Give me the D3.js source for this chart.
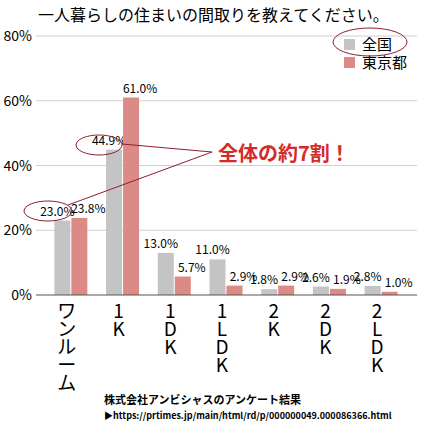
<!DOCTYPE html><html><head><meta charset="utf-8"><script src="https://cdn.jsdelivr.net/npm/d3@7"></script>
<style>body{margin:0;background:#fff}text{font-family:"Noto Sans CJK JP",sans-serif}</style></head><body><svg id="c" width="424" height="426"></svg>
<script>
const categories=["ワンルーム","1K","1DK","1LDK","2K","2DK","2LDK"];
const labelChars=[["ワ","ン","ル","ー","ム"],["1","K"],["1","D","K"],["1","L","D","K"],["2","K"],["2","D","K"],["2","L","D","K"]];
const zenkoku=[23.0,44.9,13.0,11.0,1.8,2.6,2.8];
const tokyo=[23.8,61.0,5.7,2.9,2.9,1.9,1.0];
const ticks=[0,20,40,60,80];
const svg=d3.select("#c");
const x=d3.scaleBand().domain(categories).range([45,407]);
const y=d3.scaleLinear().domain([0,80]).range([295,36]);
const g="#c4c4c4",r="#dc8a86";
svg.append("text").attr("x",38).attr("y",21).attr("font-size",16).text("一人暮らしの住まいの間取りを教えてください。");
ticks.forEach(t=>{
  if(t>0)svg.append("line").attr("x1",36).attr("x2",417).attr("y1",y(t)).attr("y2",y(t)).attr("stroke","#d0d0d0");
  svg.append("text").attr("x",32).attr("y",y(t)+5).attr("text-anchor","end").attr("font-size",14).text(t+"%");
});
const bw=16;
categories.forEach((c,i)=>{
  const cx=x(c)+x.bandwidth()/2;
  [[zenkoku[i],g,cx-bw-0.5,-5],[tokyo[i],r,cx+0.5,9]].forEach(([v,col,bx,dx])=>{
    svg.append("rect").attr("x",bx).attr("y",y(v)).attr("width",bw).attr("height",y(0)-y(v)).attr("fill",col);
    svg.append("text").attr("x",bx+bw/2+dx).attr("y",y(v)-5).attr("text-anchor","middle").attr("font-size",12).text(v.toFixed(1)+"%");
  });
  labelChars[i].forEach((ch,k)=>svg.append("text").attr("x",cx-4).attr("y",318+k*18).attr("text-anchor","middle").attr("font-size",19).text(ch));
});
svg.append("line").attr("x1",36).attr("x2",417).attr("y1",y(0)).attr("y2",y(0)).attr("stroke","#555");
svg.append("rect").attr("x",344).attr("y",39).attr("width",11).attr("height",11).attr("fill",g);
svg.append("text").attr("x",362).attr("y",50).attr("font-size",15).text("全国");
svg.append("rect").attr("x",344).attr("y",57).attr("width",11).attr("height",11).attr("fill",r);
svg.append("text").attr("x",362).attr("y",68).attr("font-size",15).text("東京都");
const dr="#8b2030";
svg.append("ellipse").attr("cx",370).attr("cy",42).attr("rx",37).attr("ry",14).attr("fill","none").attr("stroke",dr);
svg.append("ellipse").attr("cx",99).attr("cy",145).attr("rx",23).attr("ry",10).attr("fill","none").attr("stroke",dr);
svg.append("ellipse").attr("cx",48).attr("cy",211).attr("rx",24).attr("ry",10).attr("fill","none").attr("stroke",dr);
svg.append("line").attr("x1",122).attr("y1",144).attr("x2",212).attr("y2",152).attr("stroke",dr);
svg.append("line").attr("x1",68).attr("y1",205).attr("x2",212).attr("y2",152).attr("stroke",dr);
svg.append("text").attr("x",218).attr("y",161).attr("font-size",20).attr("font-weight","bold").attr("fill","#d42a2a").text("全体の約7割！");
svg.append("text").attr("x",104).attr("y",404).attr("font-size",11).attr("font-weight","bold").text("株式会社アンビシャスのアンケート結果");
svg.append("text").attr("x",104).attr("y",419).attr("font-size",9).attr("font-weight","bold").text("▶https://prtimes.jp/main/html/rd/p/000000049.000086366.html");
</script></body></html>
